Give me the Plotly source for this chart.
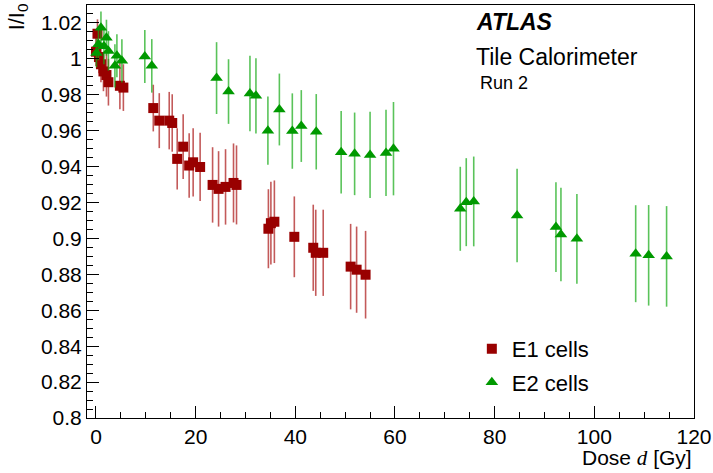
import plotly.graph_objects as go

# E1 cells (red squares)
e1_dose = [0.0, 0.3, 0.6, 1.0, 1.5, 2.1, 2.5, 4.8, 5.5,
           11.5, 12.7, 14.7, 15.3, 16.3, 17.5, 18.7, 19.5, 20.9,
           23.4, 24.6, 26.0, 27.6, 28.2,
           34.6, 35.1, 35.8, 39.8, 43.6, 44.1, 45.6, 51.1, 52.3, 54.1]
e1_ratio = [1.004, 1.014, 1.001, 0.997, 0.993, 0.991, 0.987, 0.985, 0.984,
            0.9726, 0.9656, 0.9656, 0.9643, 0.9443, 0.9511, 0.9406, 0.9424, 0.9398,
            0.9298, 0.9276, 0.9287, 0.9309, 0.9298,
            0.9054, 0.9085, 0.9093, 0.9009, 0.8948, 0.892, 0.892, 0.8843, 0.8826, 0.8798]
e1_err = [0.008, 0.008, 0.009, 0.010, 0.011, 0.012, 0.013, 0.013, 0.013,
          0.013, 0.0153, 0.016, 0.016, 0.017, 0.018, 0.018, 0.019, 0.019,
          0.021, 0.021, 0.021, 0.022, 0.022,
          0.022, 0.023, 0.023, 0.0225, 0.024, 0.024, 0.024, 0.0238, 0.024, 0.0244]

# E2 cells (green triangles)
e2_dose = [0.1, 0.5, 1.0, 1.6, 2.1, 2.5, 3.8, 4.2, 5.2,
           9.8, 11.2, 24.2, 26.6, 30.9, 32.1, 34.5, 36.8, 39.4, 41.2, 44.2,
           49.2, 51.9, 55.0, 58.2, 59.7,
           73.1, 74.3, 75.8, 84.5, 92.3, 93.3, 96.5, 108.3, 110.9, 114.5]
e2_ratio = [1.0033, 1.0082, 1.0174, 1.007, 1.0118, 1.0044, 0.9961, 1.0017, 0.9989,
            1.0013, 0.9961, 0.9893, 0.9818, 0.9807, 0.9794, 0.960, 0.9718, 0.9598, 0.9626, 0.9594,
            0.948, 0.9471, 0.9465, 0.9476, 0.950,
            0.9165, 0.9202, 0.9206, 0.9128, 0.9063, 0.9022, 0.8998, 0.8915, 0.8906, 0.890]
e2_err = [0.008, 0.009, 0.009, 0.010, 0.010, 0.011, 0.012, 0.012, 0.012,
          0.0148, 0.0149, 0.020, 0.018, 0.021, 0.021, 0.019, 0.020, 0.021, 0.020, 0.021,
          0.023, 0.023, 0.024, 0.024, 0.026,
          0.0234, 0.0245, 0.025, 0.026, 0.025, 0.026, 0.025, 0.027, 0.028, 0.028]

y_tickvals = [0.8, 0.82, 0.84, 0.86, 0.88, 0.9, 0.92, 0.94, 0.96, 0.98, 1.0, 1.02]
y_ticktext = ["0.8", "0.82", "0.84", "0.86", "0.88", "0.9", "0.92", "0.94", "0.96", "0.98", "1", "1.02"]
x_tickvals = [0, 20, 40, 60, 80, 100, 120]
x_ticktext = ["0", "20", "40", "60", "80", "100", "120"]

RED = "rgb(153,0,0)"
GREEN = "rgb(0,153,0)"
FONT = "Liberation Sans, Arial, sans-serif"

fig = go.Figure()
fig.add_trace(go.Scatter(
    x=e1_dose, y=e1_ratio, mode="markers", name="E1 cells", legendgroup="e1",
    marker=dict(symbol="square", size=10, color=RED),
    error_y=dict(type="data", array=e1_err, visible=True, width=0, thickness=1.6,
                 color="rgba(170,20,20,0.7)"),
))
fig.add_trace(go.Scatter(
    x=e2_dose, y=e2_ratio, mode="markers", name="E2 cells", legendgroup="e2",
    marker=dict(symbol="triangle-up", size=11, color=GREEN),
    error_y=dict(type="data", array=e2_err, visible=True, width=0, thickness=1.6,
                 color="rgba(20,170,20,0.7)"),
))

fig.update_layout(
    width=713, height=473,
    margin=dict(l=87, r=19, t=5, b=55, autoexpand=False),
    paper_bgcolor="white", plot_bgcolor="white",
    font=dict(family=FONT, size=21, color="black"),
    showlegend=True,
    legend=dict(x=0.634, y=0.218, xanchor="left", yanchor="top",
                bgcolor="rgba(0,0,0,0)", font=dict(size=22), tracegroupgap=2),
    xaxis=dict(range=[-1.8, 120], showgrid=False, zeroline=False,
               showline=True, linecolor="black", linewidth=1, mirror=True,
               ticks="inside", ticklen=12, tickcolor="black",
               tickvals=x_tickvals, ticktext=x_ticktext, automargin=False,
               minor=dict(ticks="inside", ticklen=6, dtick=5, tick0=0, tickcolor="black")),
    yaxis=dict(range=[0.8, 1.03], showgrid=False, zeroline=False,
               showline=True, linecolor="black", linewidth=1, mirror=True,
               ticks="inside", ticklen=12, tickcolor="black",
               tickvals=y_tickvals, ticktext=y_ticktext, automargin=False,
               minor=dict(ticks="inside", ticklen=6, dtick=0.005, tick0=0.8, tickcolor="black")),
)

fig.add_annotation(xref="paper", yref="paper", x=1.0, y=-0.097, xanchor="right", yanchor="middle",
                   text="Dose <span style='font-family:Liberation Serif, serif'><i>d</i></span> [Gy]",
                   showarrow=False, font=dict(size=21))
fig.add_annotation(xref="paper", yref="paper", x=-0.1137, y=1.01, xanchor="center", yanchor="top",
                   text="I/I<sub>0</sub>", textangle=-90, showarrow=False, font=dict(size=22))
fig.add_annotation(xref="paper", yref="paper", x=0.638, y=0.959, xanchor="left", yanchor="middle",
                   text="<b><i>ATLAS</i></b>", showarrow=False, font=dict(size=23))
fig.add_annotation(xref="paper", yref="paper", x=0.638, y=0.874, xanchor="left", yanchor="middle",
                   text="Tile Calorimeter", showarrow=False, font=dict(size=23))
fig.add_annotation(xref="paper", yref="paper", x=0.644, y=0.811, xanchor="left", yanchor="middle",
                   text="Run 2", showarrow=False, font=dict(size=18))

fig.write_html("out.html", config={"displayModeBar": False},
               post_script="document.body.style.margin='0';document.body.style.overflow='hidden';")
